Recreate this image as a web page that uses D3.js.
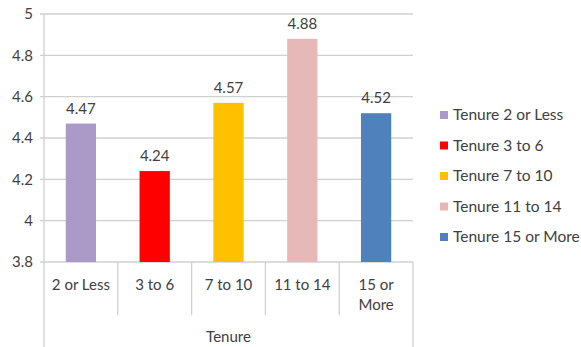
<!DOCTYPE html>
<html><head><meta charset="utf-8">
<script src="https://cdn.jsdelivr.net/npm/d3@7"></script>
<style>body{margin:0;background:#fff}svg{display:block}text{font-family:Lato,"Open Sans",sans-serif;fill:#404040}</style>
</head><body>
<svg id="c" width="581" height="347"></svg>
<script>
const categories = ["2 or Less","3 to 6","7 to 10","11 to 14","15 or More"];
const categoryLines = [["2 or Less"],["3 to 6"],["7 to 10"],["11 to 14"],["15 or","More"]];
const values = [4.47, 4.24, 4.57, 4.88, 4.52];
const valueLabels = ["4.47","4.24","4.57","4.88","4.52"];
const seriesNames = ["Tenure 2 or Less","Tenure 3 to 6","Tenure 7 to 10","Tenure 11 to 14","Tenure 15 or More"];
const colors = ["#ab9ac8","#ff0000","#ffc000","#e6b8b7","#4f81bd"];
const yTicks = [3.8, 4, 4.2, 4.4, 4.6, 4.8, 5];
const groupLabel = "Tenure";

(function(){
const svg = d3.select("#c");
const L = 44, R = 413, T = 14, B = 262;
const fs = 15;
const x = d3.scaleBand().domain(categories).range([L, R]).paddingInner(0.59).paddingOuter(0.295);
const xb = d3.scaleBand().domain(categories).range([L, R]);
const y = d3.scaleLinear().domain([3.8, 5]).range([B, T]);
const grid = "#d0d0d0";

svg.append("g").selectAll("line").data(yTicks).join("line")
  .attr("x1", L - 4).attr("x2", R).attr("y1", d => y(d)).attr("y2", d => y(d))
  .attr("stroke", grid).attr("stroke-width", 1.3);
svg.append("g").selectAll("text").data(yTicks).join("text")
  .attr("x", 33).attr("y", d => y(d)).attr("dy", "0.35em").attr("text-anchor", "end")
  .attr("font-size", fs).text(d => d3.format("~g")(d));

svg.append("line").attr("x1", L).attr("x2", L).attr("y1", T).attr("y2", 347).attr("stroke", grid).attr("stroke-width", 1.3);
svg.append("line").attr("x1", R).attr("x2", R).attr("y1", B).attr("y2", 347).attr("stroke", grid).attr("stroke-width", 1.3);
svg.append("g").selectAll("line").data(categories.slice(1)).join("line")
  .attr("x1", d => xb(d)).attr("x2", d => xb(d)).attr("y1", B).attr("y2", 315)
  .attr("stroke", grid).attr("stroke-width", 1.3);

svg.append("g").selectAll("rect").data(values).join("rect")
  .attr("x", (d, i) => x(categories[i])).attr("width", x.bandwidth())
  .attr("y", d => y(d)).attr("height", d => B - y(d))
  .attr("fill", (d, i) => colors[i]);
svg.append("g").selectAll("text").data(values).join("text")
  .attr("x", (d, i) => x(categories[i]) + x.bandwidth() / 2).attr("y", d => y(d) - 10)
  .attr("text-anchor", "middle").attr("font-size", fs).text((d, i) => valueLabels[i]);

const cl = svg.append("g").selectAll("text").data(categories).join("text")
  .attr("x", d => xb(d) + xb.bandwidth() / 2).attr("y", 290).attr("text-anchor", "middle").attr("font-size", fs);
cl.each(function(d, i) {
  d3.select(this).selectAll("tspan").data(categoryLines[i]).join("tspan")
    .attr("x", xb(d) + xb.bandwidth() / 2).attr("dy", (t, j) => j === 0 ? 0 : 20).text(t => t);
});
svg.append("text").attr("x", (L + R) / 2).attr("y", 342).attr("text-anchor", "middle")
  .attr("font-size", fs).text(groupLabel);

const lg = svg.append("g").selectAll("g").data(seriesNames).join("g")
  .attr("transform", (d, i) => `translate(440,${115 + i * 30.5})`);
lg.append("rect").attr("x", 0).attr("y", -4).attr("width", 8).attr("height", 8).attr("fill", (d, i) => colors[i]);
lg.append("text").attr("x", 13).attr("y", 0).attr("dy", "0.35em").attr("font-size", 15.5).text(d => d);
})();
</script>
</body></html>
